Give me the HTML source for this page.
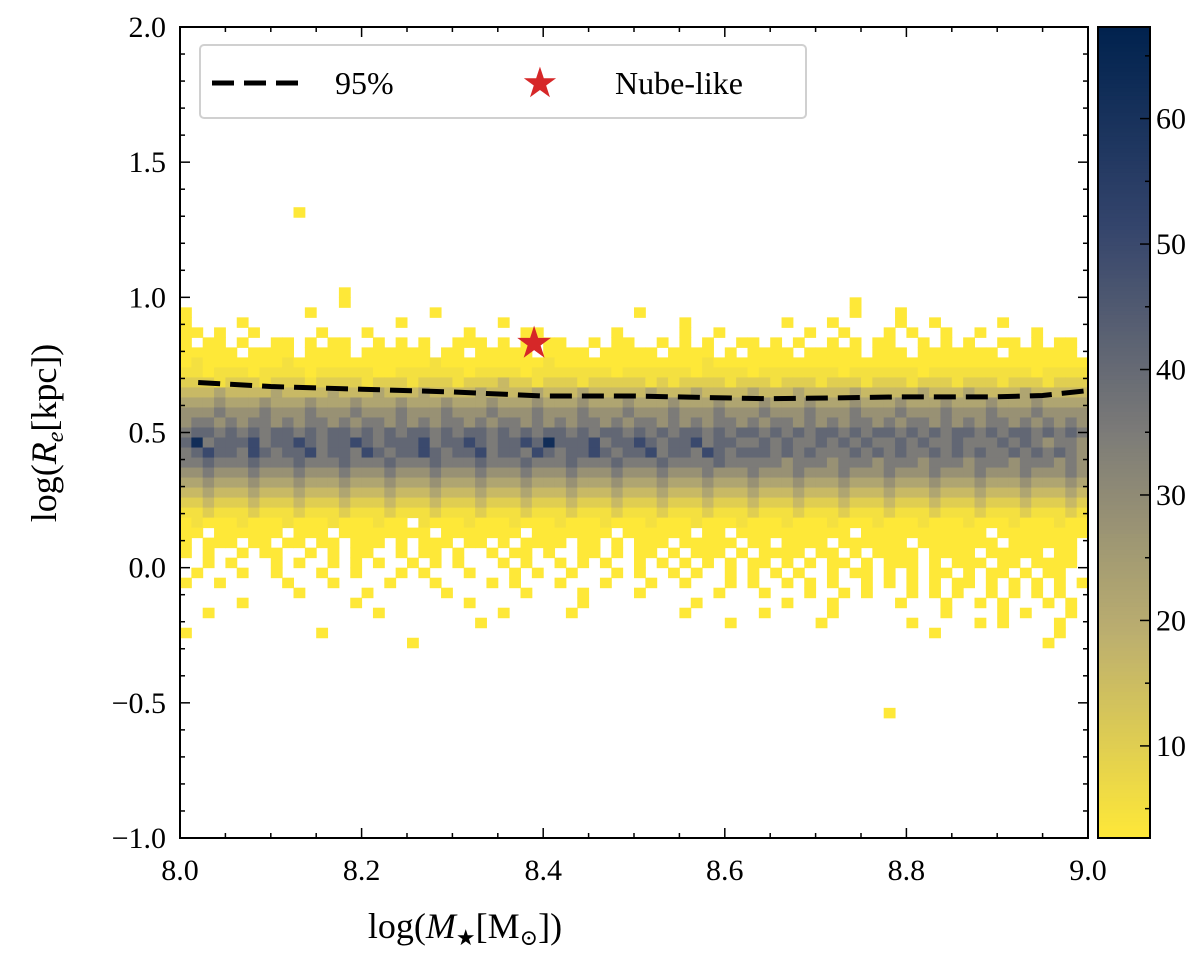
<!DOCTYPE html>
<html><head><meta charset="utf-8">
<style>
html,body{margin:0;padding:0;background:#fff;}
svg{display:block;font-family:"Liberation Serif","DejaVu Serif",serif;}
</style></head>
<body>
<svg id="chart" width="1200" height="958" viewBox="0 0 1200 958" xmlns="http://www.w3.org/2000/svg">
  <g id="cells"></g>
  <g id="curve"></g>
  <g id="axes"></g>
  <g id="cbar"></g>
  <g>
    <rect x="200" y="45" width="606" height="73" rx="4" fill="#fff" fill-opacity="0.85" stroke="#d0d0d0" stroke-width="2"/>
    <line x1="212" y1="83" x2="302" y2="83" stroke="#000" stroke-width="5" stroke-dasharray="22,10"/>
    <text x="335" y="94" font-size="32">95%</text>
    <text x="540" y="97" font-size="42" fill="#d62728" text-anchor="middle">★</text>
    <text x="615" y="94" font-size="32">Nube-like</text>
  </g>
  <text x="465" y="938" font-size="36" text-anchor="middle">log(<tspan font-style="italic">M</tspan><tspan font-size="22" dy="7">★</tspan><tspan dy="-7">[M</tspan><tspan font-size="22" dy="7">⊙</tspan><tspan dy="-7">])</tspan></text>
  <text transform="translate(56,433) rotate(-90)" font-size="36" text-anchor="middle">log(<tspan font-style="italic">R</tspan><tspan font-style="italic" font-size="24" dy="7">e</tspan><tspan dy="-7">[kpc])</tspan></text>
</svg>
<script>
// ---- data ----
const xBinStart = 8.0, xBinWidth = 0.0125, nX = 80;
const yBinStart = -1.0, yBinWidth = 3/81;
const levelCounts = {'1':2,'2':5,'3':10,'4':16,'5':22,'6':28,'7':35,'8':41,'9':50,'a':62,'b':68};
const topRowIndex = 62;
const gridRows = [
"..........1",
"","","","","","","",
"..............1",
"..............1............................................1",
"1..........1..........1.................1..................1...1",
"1....1.............1........1...............1........1...1.....1..1.....1",
"11.1..1.....1...1........1....11......1.....1..1.......1..1...1.1..1..1....1",
"1.11.1..11.1.11..1.1.1..111.1.1.11..1.11..1.1.1..11.1.1..1.1.11..1.1.1..11.1.11",
"11111.1111.1111.111111.11.11111.1111.11111.1111.1.1111.11111.111.1111111.111111",
"12111111121111111111112111111111211111111111112111111111111111111111111111111111",
"22122212222122222112222221222212222222122222212222122222221222222122222222212222",
"33323332333233332333233323334332333233333232333323332333233323332333233323332333",
"44454444544445444544454444544445444544444544454444544454444544444544454444544444",
"55565556555655565556555655565556555655565556555655565556555655565556555655565555",
"66676667666766676667666766676667666766676667666766676667666766676667666766676666",
"67767677676776767767676776767767676776767767676776767767676776767767676776767676",
"78878787887878878787887878878787887878878787887878878787887878878787887878878787",
"8a788897889878898788897889878898a88897889878897887787877878787787877877787876776",
"78988798788978879878898788978879878898788978879878887878777878787787878778787876",
"77877787778777877787778777877787778777877787777877777677767776777677767776777676",
"66766676667666766676667666766676667666766676667666766676667666766676667666766676",
"55655565556555655565556555655565556555655565556555655565556555655565556555655565",
"44544454445444544454445444544454445444544454445444544454445444544454445444544454",
"33433343334333433343334333433343334333433343334333433343334333433343334333433343",
"22322232223222322232223222322232223222322232223222322232223222322232223222322232",
"12111211121112111211.21112111211121112111211121112111211121112111211121112111211",
"11.111111.111.11111111.1111111.1111111.111111.11.1111111111.11111111111.11111111",
"1.111.11.11.11.111.1.111.11.1.1111.11.1.111.11111.11.1111.111111.1111111.111111",
"1.1..1.11..1.1.11..1.11.1..1.11.1..11.1.11.1.111.1.1111.11.1.1111.1111.11111.11",
"..1.1...1.1..1.1.1..1.1.1...1.1..1.1.1..1.1.1.1.1.11.1.1.11.1.111.1.111.11.1111",
".1...1..1...1..1...1.1...1...1.1..1...1.1..1.1..1.1.1.1..1.11.1.1.11.1.11.1.11.",
"1..1.....1...1....1...1....1.1...1...1...1..1...1.1..1.1.1..1.1.1.1.11.1.1.1.1.1",
"..........1.....1......1......1....1....1......1...1...1..1.1...1.1.1..1.1.1.1..",
".....1.........1.........1.........1.........1.......1...1.....1...1..1.1...1.1.",
"..1..............1..........1.....1.........1......1.....1.........1....1.1...1.1",
"..........................1.....................1.......1.......1.....1.1....1..",
"1...........1.....................................................1..........1..1",
"....................1.......................................................1.....",
"","","","","","",
"..............................................................1"
];
const curveX = [8.02,8.1,8.2,8.3,8.4,8.5,8.6,8.65,8.7,8.8,8.9,8.95,9.0];
const curveY = [0.685,0.67,0.66,0.65,0.635,0.635,0.628,0.625,0.627,0.632,0.632,0.637,0.655];
const starPoint = [8.39, 0.83];
const xTicks = [8.0,8.2,8.4,8.6,8.8,9.0];
const yTicks = [-1.0,-0.5,0.0,0.5,1.0,1.5,2.0];
const cbTicks = [10,20,30,40,50,60];
const cbMin = 2.66, cbMax = 67.3;

// ---- scales ----
const X0=180,X1=1088,Y0=838,Y1=27;
const sx = v => X0 + (v-8)/(1)*(X1-X0);
const sy = v => Y0 - (v+1)/3*(Y0-Y1);
const NS='http://www.w3.org/2000/svg';
function mk(tag, attrs, parent){const e=document.createElementNS(NS,tag);for(const k in attrs)e.setAttribute(k,attrs[k]);parent.appendChild(e);return e;}
const civ=[[0,[0,34,78]],[0.25,[53,69,108]],[0.5,[124,123,120]],[0.75,[188,175,111]],[1,[254,232,56]]];
function cividis(t){t=Math.max(0,Math.min(1,t));for(let i=1;i<civ.length;i++){if(t<=civ[i][0]){const a=civ[i-1],b=civ[i];const f=(t-a[0])/(b[0]-a[0]);return 'rgb('+a[1].map((c,j)=>Math.round(c+(b[1][j]-c)*f)).join(',')+')';}}return 'rgb(254,232,56)';}
const colorFor = v => cividis(1-(v-cbMin)/(cbMax-cbMin));

// ---- cells ----
const cells=document.getElementById('cells');
gridRows.forEach((row,ri)=>{
  const k = topRowIndex - ri;
  for(let c=0;c<nX;c++){
    const ch=row[c]; if(!ch||ch==='.') continue;
    const v=levelCounts[ch];
    const xa=sx(xBinStart+c*xBinWidth), xb=sx(xBinStart+(c+1)*xBinWidth);
    const ya=sy(yBinStart+(k+1)*yBinWidth), yb=sy(yBinStart+k*yBinWidth);
    const r=mk('rect',{x:xa,y:ya,width:xb-xa+0.5,height:yb-ya+0.5,fill:colorFor(v)},cells);
    
    
  }
});

// ---- curve ----
const cg=document.getElementById('curve');
const p=mk('path',{d:curveX.map((x,i)=>(i?'L':'M')+sx(x)+','+sy(curveY[i])).join(' '),fill:'none',stroke:'#000','stroke-width':5,'stroke-dasharray':'22,10'},cg);


const st=mk('text',{x:sx(starPoint[0]),y:sy(starPoint[1])+14,'font-size':44,fill:'#d62728','text-anchor':'middle'},cg);
st.textContent='★';



// ---- axes ----
const ax=document.getElementById('axes');
mk('rect',{x:X0,y:Y1,width:X1-X0,height:Y0-Y1,fill:'none',stroke:'#000','stroke-width':2},ax);
for(let i=0;i<=20;i++){const v=8+i*0.05,x=sx(v),L=(i%4===0)?10:5;
  mk('line',{x1:x,y1:Y0,x2:x,y2:Y0-L,stroke:'#000','stroke-width':1.5},ax);
  mk('line',{x1:x,y1:Y1,x2:x,y2:Y1+L,stroke:'#000','stroke-width':1.5},ax);}
for(let i=0;i<=30;i++){const v=-1+i*0.1,y=sy(v),L=(i%5===0)?10:5;
  mk('line',{x1:X0,y1:y,x2:X0+L,y2:y,stroke:'#000','stroke-width':1.5},ax);
  mk('line',{x1:X1,y1:y,x2:X1-L,y2:y,stroke:'#000','stroke-width':1.5},ax);}
xTicks.forEach(v=>{const t=mk('text',{x:sx(v),y:880,'font-size':30,'text-anchor':'middle'},ax);t.textContent=v.toFixed(1);
  
  });
yTicks.forEach(v=>{const t=mk('text',{x:166,y:sy(v)+10,'font-size':30,'text-anchor':'end'},ax);t.textContent=(v<0?'−':'')+Math.abs(v).toFixed(1);
  
  });

// ---- colorbar ----
const cb=document.getElementById('cbar');
const CX=1098,CW=52;
for(let i=0;i<200;i++){const ya=Y1+(Y0-Y1)*i/200;const v=cbMax-(cbMax-cbMin)*(i+0.5)/200;
  mk('rect',{x:CX,y:ya,width:CW,height:(Y0-Y1)/200+0.6,fill:colorFor(v)},cb);}
mk('rect',{x:CX,y:Y1,width:CW,height:Y0-Y1,fill:'none',stroke:'#000','stroke-width':2},cb);
const cy=v=>Y0-(v-cbMin)/(cbMax-cbMin)*(Y0-Y1);
for(let v=5;v<=65;v+=5){const y=cy(v),L=(v%10===0)?10:5;mk('line',{x1:CX+CW,y1:y,x2:CX+CW-L,y2:y,stroke:'#000','stroke-width':1.5},cb);}
cbTicks.forEach(v=>{const t=mk('text',{x:1156,y:cy(v)+10,'font-size':30},cb);t.textContent=v;
  
  });
</script>
</body></html>
